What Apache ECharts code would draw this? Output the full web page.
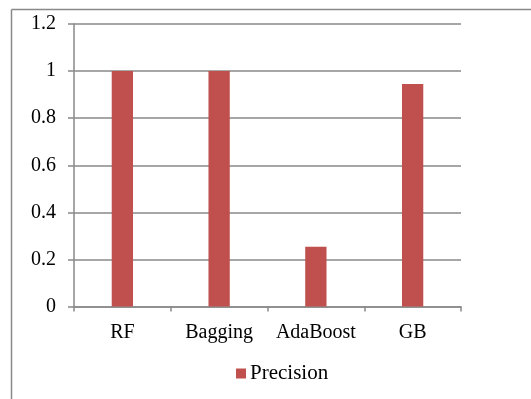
<!DOCTYPE html>
<html>
<head>
<meta charset="utf-8">
<script src="https://cdn.jsdelivr.net/npm/echarts@6/dist/echarts.min.js"></script>
<style>
html,body{margin:0;padding:0;background:#fff;}
#chart{width:531px;height:399px;}
</style>
</head>
<body>
<div id="chart"></div>
<script>
const categories = ['RF', 'Bagging', 'AdaBoost', 'GB'];
const seriesName = 'Precision';
const precision = [1.0, 1.0, 0.254, 0.945];
const yTickLabels = ['0', '0.2', '0.4', '0.6', '0.8', '1', '1.2'];

const FONT = "'Liberation Serif', 'Times New Roman', serif";
const GRAY = '#898989';

const chart = echarts.init(document.getElementById('chart'), null, {renderer: 'canvas'});
chart.setOption({
  animation: false,
  backgroundColor: '#ffffff',
  textStyle: {fontFamily: FONT},
  graphic: [
    {type: 'line', shape: {x1: 11.5, y1: 9.5, x2: 540, y2: 9.5}, style: {stroke: GRAY, lineWidth: 1.5}},
    {type: 'line', shape: {x1: 11.5, y1: 9.5, x2: 11.5, y2: 410}, style: {stroke: GRAY, lineWidth: 1.5}}
  ],
  grid: {left: 74, right: 70, top: 24, bottom: 92.5, containLabel: false},
  xAxis: {
    type: 'category',
    data: categories,
    axisLine: {show: true, lineStyle: {color: GRAY, width: 1.5}},
    axisTick: {show: true, length: 5, lineStyle: {color: GRAY, width: 1.5}},
    axisLabel: {color: '#000', fontFamily: FONT, fontSize: 20, margin: 16, interval: 0, hideOverlap: false},
    splitLine: {show: false}
  },
  yAxis: {
    type: 'value',
    min: 0, max: 1.2, interval: 0.2,
    axisLine: {show: true, lineStyle: {color: GRAY, width: 1.5}},
    axisTick: {show: true, length: 6, lineStyle: {color: GRAY, width: 1.5}},
    axisLabel: {
      color: '#000', fontFamily: FONT, fontSize: 20, margin: 18,
      formatter: function (v) { return yTickLabels[Math.round(v / 0.2)]; }
    },
    splitLine: {show: true, lineStyle: {color: GRAY, width: 1.5}}
  },
  legend: {
    show: true,
    data: [seriesName],
    left: 231, top: 358,
    icon: 'rect', itemWidth: 10, itemHeight: 10,
    textStyle: {color: '#000', fontFamily: FONT, fontSize: 21, padding: [0, 0, 0, -1]}
  },
  series: [{
    name: seriesName,
    type: 'bar',
    data: precision,
    barWidth: '22%',
    itemStyle: {color: '#C0504D'}
  }]
});
</script>
</body>
</html>
